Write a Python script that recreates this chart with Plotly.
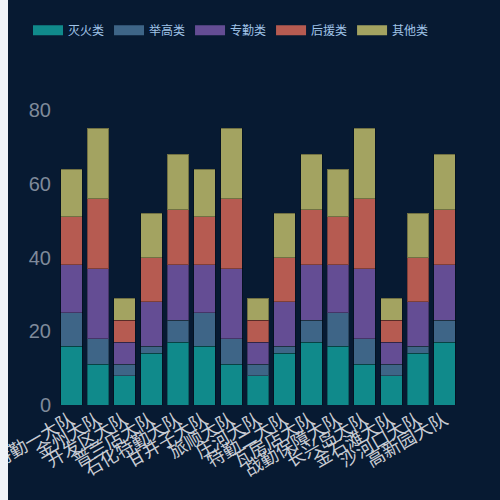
import plotly.graph_objects as go

# 各大队人员构成
teams = ["特勤一大队", "金州大队", "开发区大队", "普兰店大队", "石化特勤大队",
         "甘井子大队", "旅顺大队", "庄河大队", "特勤二大队", "瓦房店大队",
         "战勤保障大队", "长兴岛大队", "金石滩大队", "沙河口大队", "高新园大队"]

fire = [16, 11, 8, 14, 17, 16, 11, 8, 14, 17, 16, 11, 8, 14, 17]      # 灭火类
ladder = [9, 7, 3, 2, 6, 9, 7, 3, 2, 6, 9, 7, 3, 2, 6]                # 举高类
special = [13, 19, 6, 12, 15, 13, 19, 6, 12, 15, 13, 19, 6, 12, 15]   # 专勤类
support = [13, 19, 6, 12, 15, 13, 19, 6, 12, 15, 13, 19, 6, 12, 15]   # 后援类
other = [13, 19, 6, 12, 15, 13, 19, 6, 12, 15, 13, 19, 6, 12, 15]     # 其他类

names = ["灭火类", "举高类", "专勤类", "后援类", "其他类"]
colors = ["#108a8b", "#3e6587", "#644d94", "#b65b51", "#a3a361"]
series = [fire, ladder, special, support, other]

fig = go.Figure()
for name, color, vals in zip(names, colors, series):
    fig.add_trace(go.Bar(
        x=teams, y=vals, name=name, legendgroup=name, showlegend=False,
        marker=dict(color=color, line=dict(color="rgba(0,0,0,0.3)", width=1)),
    ))
    # legend swatch: wide flat bar like the original
    fig.add_trace(go.Scatter(
        x=[None], y=[None], mode="lines", name=name, legendgroup=name,
        line=dict(color=color, width=10),
    ))

font = "Liberation Sans, Noto Sans CJK SC, sans-serif"
fig.update_layout(
    width=500, height=500,
    barmode="stack", bargap=0.19,
    paper_bgcolor="#071a32", plot_bgcolor="#071a32",
    margin=dict(l=58, r=42, t=110, b=95, autoexpand=False),
    font=dict(family=font),
    showlegend=True,
    legend=dict(
        orientation="h", x=-0.075, xanchor="left", y=1.27, yanchor="middle",
        font=dict(size=12, color="#a0c4e8"), bgcolor="rgba(0,0,0,0)",
    ),
    xaxis=dict(
        type="category", tickangle=-30, showgrid=False, showline=False,
        tickfont=dict(size=18, color="#c8ccd4"), zeroline=False,
        automargin=False,
    ),
    yaxis=dict(
        range=[0, 80], dtick=20, showgrid=False, zeroline=False, showline=False,
        tickfont=dict(size=20, color="#7f8a9a"), ticklabelstandoff=6,
        automargin=False,
    ),
    shapes=[dict(
        type="rect", xref="paper", yref="paper", layer="above",
        x0=-0.2, x1=-0.125, y0=-0.5, y1=1.5,
        fillcolor="#f0f3f8", line=dict(width=0),
    )],
)

fig.write_html("out.html", config={"displayModeBar": False},
               post_script="document.body.style.margin='0';")
